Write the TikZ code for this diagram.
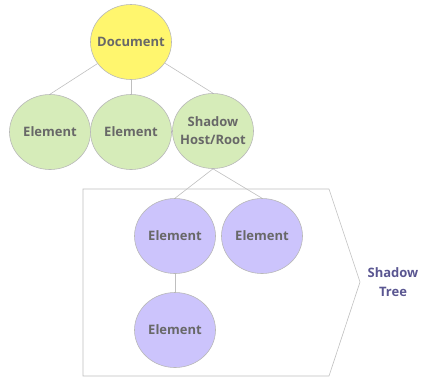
\documentclass[tikz,border=0pt]{standalone}
\usepackage{fontspec}
\setmainfont{Open Sans}
\usetikzlibrary{positioning,shapes.geometric}
\definecolor{docyellow}{RGB}{255,246,110}
\definecolor{lightgreen}{RGB}{214,236,185}
\definecolor{lightpurple}{RGB}{204,196,252}
\definecolor{labelgray}{RGB}{104,104,104}
\definecolor{treeblue}{RGB}{90,86,145}

\begin{document}
\begin{tikzpicture}[x=1pt, y=-1pt,
  n/.style    = {ellipse, draw=black!28, line width=0.6pt,
                 minimum width=81pt, minimum height=75pt, inner sep=-12pt,
                 text=labelgray, font=\bfseries\fontsize{13}{18}\selectfont,
                 align=center},
  docnode/.style = {n, fill=docyellow},
  light/.style   = {n, fill=lightgreen},
  shadow/.style  = {n, fill=lightpurple},
  e/.style    = {draw=black!25, line width=0.6pt}]
\useasboundingbox (0,0) rectangle (427,384);

% --- shadow tree frame ------------------------------------------------
\draw[e] (83,189) -- (329,189) -- (360,282) -- (329,376) -- (83,376) -- cycle;
\node[text=treeblue, font=\bfseries\fontsize{13}{19}\selectfont, align=center]
     (lbl) at (393,282) {Shadow\\Tree};

% --- light tree -------------------------------------------------------
\node[docnode] (doc)  at (131,42)  {Document};
\node[light]   (el1)  at (50,132)  {Element};
\node[light]   (el2)  at (131,132) {Element};
\node[light]   (host) at (213,131) {Shadow\\Host/Root};

% --- shadow tree ------------------------------------------------------
\node[shadow]  (sh1)  at (175,236) {Element};
\node[shadow]  (sh2)  at (262,236) {Element};
\node[shadow]  (sh3)  at (175,330) {Element};

% --- edges ------------------------------------------------------------
\draw[e] (doc)--(el1.north);  \draw[e] (doc)--(el2);
\draw[e] (doc)--(host.north);
\draw[e] (host.south)--(sh1.north);  \draw[e] (host.south)--(sh2.north);
\draw[e] (sh1)--(sh3);
\end{tikzpicture}
\end{document}
